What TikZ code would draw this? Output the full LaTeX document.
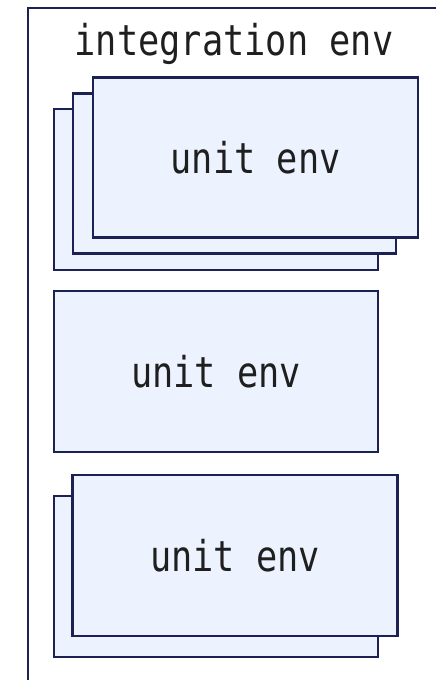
\documentclass[tikz,border=0pt]{standalone}
\usepackage{fontspec}
\setmonofont{DejaVu Sans Mono}
\definecolor{boxfill}{HTML}{ECF2FE}
\definecolor{boxline}{HTML}{1B2152}
\tikzset{
  envframe/.style={draw=boxline, line width=2.3pt, fill=white},
  unitbox/.style={draw=boxline, line width=2.3pt, fill=boxfill, inner sep=0pt},
  envlabel/.style={font=\ttfamily\fontsize{36}{36}\selectfont, text=black!88, inner sep=0pt},
}
\newcommand{\tallmono}[1]{\scalebox{0.98}[1.18]{#1}}
\begin{document}
\begin{tikzpicture}[x=1pt, y=-1pt]
  \useasboundingbox (0,0) rectangle (436,680);
  % outer integration environment frame (runs past the page edges)
  \draw[envframe] (28,8) rectangle (460,710);
  \node[envlabel] (title) at (234,44) {\tallmono{integration env}};

  % first stack of three unit environments
  \node[unitbox, minimum width=324pt, minimum height=161pt] (s1c) at (216,189.5) {};
  \node[unitbox, minimum width=323pt, minimum height=160pt] (s1b) at (234.5,173.5) {};
  \node[unitbox, minimum width=325pt, minimum height=160pt] (s1a) at (255.7,157.5) {};
  \node[envlabel] (l1) at (s1a.center) {\tallmono{unit env}};

  % single unit environment
  \node[unitbox, minimum width=324pt, minimum height=161pt] (s2) at (216,371.5) {};
  \node[envlabel] (l2) at (s2.center) {\tallmono{unit env}};

  % stack of two unit environments
  \node[unitbox, minimum width=324pt, minimum height=161pt] (s3b) at (216,576.5) {};
  \node[unitbox, minimum width=325pt, minimum height=161pt] (s3a) at (235,555.5) {};
  \node[envlabel] (l3) at (s3a.center) {\tallmono{unit env}};
\end{tikzpicture}
\end{document}
